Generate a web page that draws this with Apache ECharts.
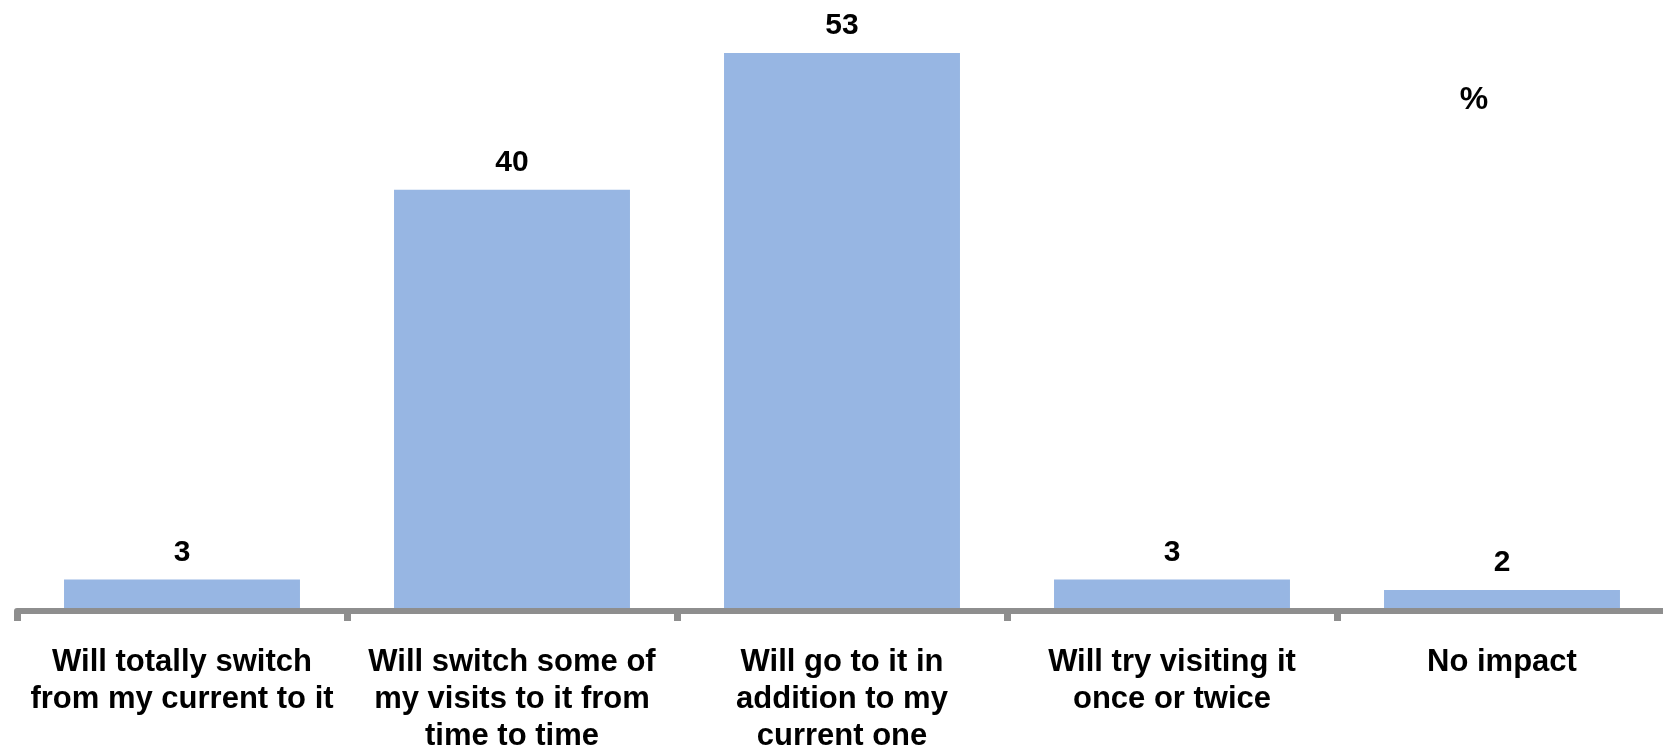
<!DOCTYPE html>
<html>
<head>
<meta charset="utf-8">
<script src="https://cdn.jsdelivr.net/npm/echarts@6/dist/echarts.min.js"></script>
<style>
  html, body { margin: 0; padding: 0; background: #fff; }
  #chart { width: 1663px; height: 750px; }
</style>
</head>
<body>
<div id="chart"></div>
<script>
const categories = [
  'Will totally switch\nfrom my current to it',
  'Will switch some of\nmy visits to it from\ntime to time',
  'Will go to it in\naddition to my\ncurrent one',
  'Will try visiting it\nonce or twice',
  'No impact'
]
const values = [3, 40, 53, 3, 2]
const unitLabel = '%'

const font = 'Arial, "Liberation Sans", sans-serif'
const chart = echarts.init(document.getElementById('chart'), null, { renderer: 'canvas' })

chart.setOption({
  animation: false,
  grid: { left: 17, right: -4, top: 53, bottom: 139, outerBoundsMode: 'none', containLabel: false },
  xAxis: {
    type: 'category',
    data: categories,
    z: 5,
    axisLine: { show: true, lineStyle: { color: '#8e8e8e', width: 6 } },
    axisTick: { show: true, alignWithLabel: false, length: 10, lineStyle: { color: '#8e8e8e', width: 7 } },
    axisLabel: {
      interval: 0,
      margin: 33,
      color: '#000',
      fontFamily: font,
      fontWeight: 'bold',
      fontSize: 31,
      lineHeight: 37,
      align: 'center'
    }
  },
  yAxis: {
    type: 'value',
    min: 0,
    max: 53,
    show: false,
    splitLine: { show: false }
  },
  series: [{
    type: 'bar',
    data: values,
    barWidth: '71.5%',
    itemStyle: { color: '#97b6e3' },
    label: {
      show: true,
      position: 'top',
      distance: 12,
      color: '#000',
      fontFamily: font,
      fontWeight: 'bold',
      fontSize: 30
    }
  }],
  graphic: [{
    type: 'text',
    style: {
      x: 1474,
      y: 100,
      text: unitLabel,
      align: 'center',
      verticalAlign: 'middle',
      fill: '#000',
      font: 'bold 32px ' + font
    }
  }]
})

window.addEventListener('resize', () => chart.resize())
</script>
</body>
</html>
